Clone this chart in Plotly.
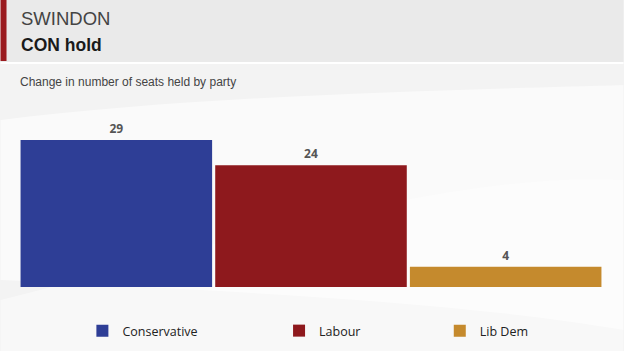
import plotly.graph_objects as go

parties = ["Conservative", "Labour", "Lib Dem"]
seats = [29, 24, 4]
colors = ["#2E3E96", "#8E191D", "#C58A2D"]
legend_ids = ["legend", "legend2", "legend3"]

W, H = 624, 351
ML, MR = 18.5, 20.5
PW = W - ML - MR
BASE_Y = 287          # pixel row of the bar baseline
UNIT = 147 / 29       # pixels per seat
Y_LO = -(H - BASE_Y) / UNIT
Y_HI = BASE_Y / UNIT

def px(X):
    return (X - ML) / PW

def py(Y):
    return (H - Y) / H

fig = go.Figure()
for name, val, col, lg in zip(parties, seats, colors, legend_ids):
    fig.add_trace(go.Bar(
        x=[name], y=[val], name=name, marker=dict(color=col, line=dict(width=0)),
        text=[str(val)], textposition="outside", cliponaxis=False,
        textfont=dict(family="Open Sans", size=12, color="#555555", weight="bold"),
        legend=lg, showlegend=True,
    ))

shapes = [
    dict(type="path", xref="paper", yref="paper", layer="below",
         path=f"M {px(0)},{py(300)} C {px(200)},{py(250)} {px(450)},{py(170)} {px(624)},{py(180)} L {px(624)},{py(351)} L {px(0)},{py(351)} Z",
         fillcolor="rgba(255,255,255,0.45)", line=dict(width=0)),
    dict(type="path", xref="paper", yref="paper", layer="below",
         path=f"M {px(0)},{py(120)} C {px(200)},{py(95)} {px(450)},{py(90)} {px(624)},{py(85)} L {px(624)},{py(330)} C {px(450)},{py(300)} {px(200)},{py(290)} {px(0)},{py(280)} Z",
         fillcolor="rgba(255,255,255,0.55)", line=dict(width=0)),
    dict(type="rect", xref="paper", yref="paper", layer="below",
         x0=px(0), x1=px(624), y0=py(0), y1=py(62), fillcolor="#EAEAEA", line=dict(width=0)),
    dict(type="rect", xref="paper", yref="paper", layer="below",
         x0=px(0), x1=px(624), y0=py(62), y1=py(64), fillcolor="#FFFFFF", line=dict(width=0)),
    dict(type="rect", xref="paper", yref="paper", layer="below",
         x0=px(0), x1=px(6), y0=py(0), y1=py(61), fillcolor="#9A1B1F", line=dict(width=0)),
]

annotations = [
    dict(text="SWINDON", xref="paper", yref="paper", x=px(18), y=py(19), xanchor="left", yanchor="middle",
         showarrow=False, font=dict(family="Liberation Sans", size=18.5, color="#444444")),
    dict(text="<b>CON hold</b>", xref="paper", yref="paper", x=px(18), y=py(45), xanchor="left", yanchor="middle",
         showarrow=False, font=dict(family="Liberation Sans", size=17.5, color="#1A1A1A")),
    dict(text="Change in number of seats held by party", xref="paper", yref="paper", x=px(17), y=py(82),
         xanchor="left", yanchor="middle", showarrow=False,
         font=dict(family="Liberation Sans", size=12, color="#444444")),
]

def legend_cfg(Xleft):
    return dict(x=px(Xleft), y=py(331), xanchor="left", yanchor="middle", orientation="h",
                bgcolor="rgba(0,0,0,0)", font=dict(family="Open Sans", size=12.5, color="#222222"),
                itemwidth=30)

fig.update_layout(
    width=W, height=H,
    margin=dict(l=ML, r=MR, t=0, b=0, pad=0),
    paper_bgcolor="#F3F3F3", plot_bgcolor="rgba(0,0,0,0)",
    bargap=0.016,
    xaxis=dict(range=[-0.5, 2.5], showticklabels=False, showgrid=False, zeroline=False, showline=False, fixedrange=True),
    yaxis=dict(range=[Y_LO, Y_HI], showticklabels=False, showgrid=False, zeroline=False, showline=False, fixedrange=True),
    shapes=shapes, annotations=annotations,
    legend=legend_cfg(82), legend2=legend_cfg(279), legend3=legend_cfg(440),
    showlegend=True,
)

fig.write_html("out.html")
